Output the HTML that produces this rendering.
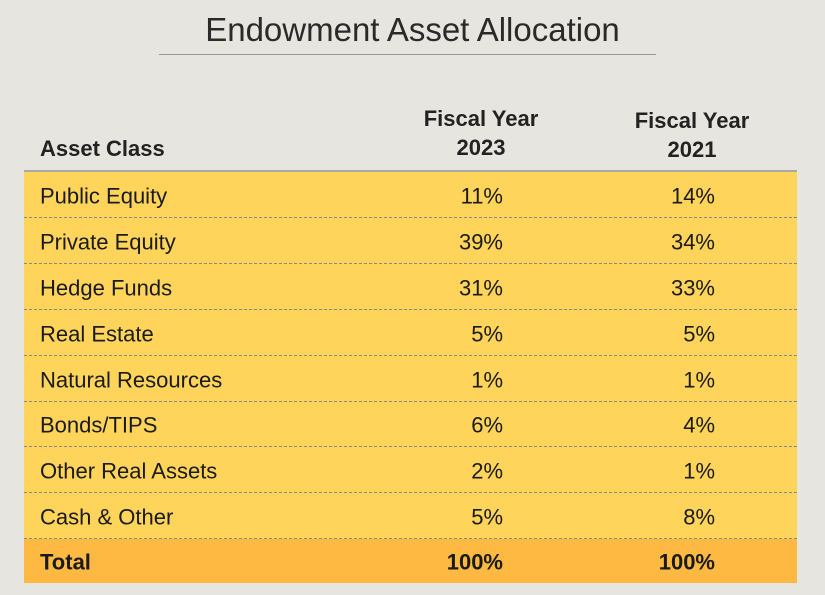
<!DOCTYPE html>
<html><head><style>
body{margin:0;width:825px;height:595px;background:#e6e5e0;font-family:"Liberation Sans","DejaVu Sans",sans-serif;position:relative;overflow:hidden;color:#1a1a1a}
.t{position:absolute;left:0;width:825px;text-align:center;top:11px;font-size:33px;color:#2a2a2a}
.ln{position:absolute;left:159px;width:497px;top:54px;height:1px;background:#999}
.h{position:absolute;font-size:22px;font-weight:bold;color:#222;line-height:29px}
.row{position:absolute;left:24px;width:773px;background:#fed45a;border-bottom:1px dashed #888;box-sizing:border-box}
.row span{position:absolute;font-size:22px;top:50%;transform:translateY(-45%)}
.a{left:16px}.b{right:294px}.c{right:82px}
</style></head><body>
<div class="t">Endowment Asset Allocation</div>
<div class="ln"></div>
<div class="h" style="left:40px;top:134px">Asset Class</div>
<div class="h" style="left:401px;width:160px;text-align:center;top:104px">Fiscal Year<br>2023</div>
<div class="h" style="left:612px;width:160px;text-align:center;top:106px">Fiscal Year<br>2021</div>
<div style="position:absolute;left:24px;width:773px;top:170px;height:2px;background:#aaa"></div>
<div class="row" style="top:172px;height:46px"><span class="a">Public Equity</span><span class="b">11%</span><span class="c">14%</span></div>
<div class="row" style="top:218px;height:46px"><span class="a">Private Equity</span><span class="b">39%</span><span class="c">34%</span></div>
<div class="row" style="top:264px;height:46px"><span class="a">Hedge Funds</span><span class="b">31%</span><span class="c">33%</span></div>
<div class="row" style="top:310px;height:46px"><span class="a">Real Estate</span><span class="b">5%</span><span class="c">5%</span></div>
<div class="row" style="top:356px;height:46px"><span class="a">Natural Resources</span><span class="b">1%</span><span class="c">1%</span></div>
<div class="row" style="top:402px;height:45px"><span class="a">Bonds/TIPS</span><span class="b">6%</span><span class="c">4%</span></div>
<div class="row" style="top:447px;height:46px"><span class="a">Other Real Assets</span><span class="b">2%</span><span class="c">1%</span></div>
<div class="row" style="top:493px;height:46px"><span class="a">Cash &amp; Other</span><span class="b">5%</span><span class="c">8%</span></div>
<div class="row" style="top:539px;height:44px;background:#fdb942;border:none"><span class="a" style="font-weight:bold">Total</span><span class="b" style="font-weight:bold">100%</span><span class="c" style="font-weight:bold">100%</span></div>
</body></html>
